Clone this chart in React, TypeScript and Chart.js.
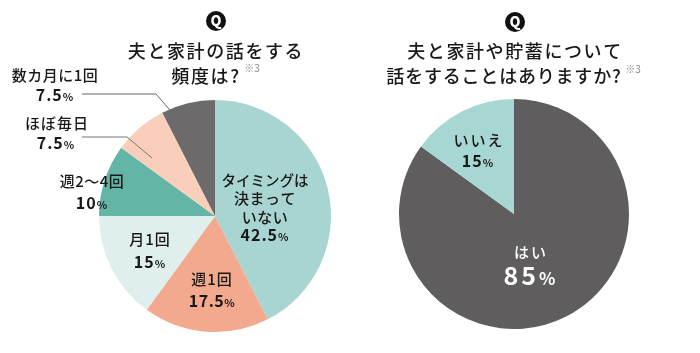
import React, { useEffect, useRef } from "react";
import { Chart, registerables } from "chart.js";

Chart.register(...registerables);

const freqCategories = ["タイミングは決まっていない", "週1回", "月1回", "週2〜4回", "ほぼ毎日", "数カ月に1回"];
const freqValues = [42.5, 17.5, 15, 10, 7.5, 7.5];
const freqColors = ["#a8d5d1", "#f2a98e", "#dfefed", "#63b5a6", "#f9cfbb", "#6c6a6a"];
const talkCategories = ["はい", "いいえ"];
const talkValues = [85, 15];
const talkColors = ["#5f5d5e", "#a6d7d3"];
const freqTitle = ["夫と家計の話をする", "頻度は?"];
const talkTitle = ["夫と家計や貯蓄について", "話をすることはありますか?"];

const FONT = '"Noto Sans CJK JP", "Noto Sans", sans-serif';
const INK = "#1a1717";

function text(ctx: CanvasRenderingContext2D, s: string, x: number, y: number, size: number, weight = 500, color = INK, spacing = 1) {
  ctx.save();
  ctx.font = `${weight} ${size}px ${FONT}`;
  (ctx as any).letterSpacing = `${spacing}px`;
  ctx.fillStyle = color;
  ctx.textAlign = "center";
  ctx.textBaseline = "middle";
  ctx.fillText(s, x, y);
  ctx.restore();
}

function pct(ctx: CanvasRenderingContext2D, v: number, x: number, y: number, size = 16, color = INK, spacing = 1) {
  ctx.save();
  const num = String(v);
  const small = size * 0.68;
  (ctx as any).letterSpacing = `${spacing}px`;
  ctx.font = `700 ${size}px ${FONT}`;
  const w1 = ctx.measureText(num).width;
  ctx.font = `700 ${small}px ${FONT}`;
  const w2 = ctx.measureText("%").width;
  const left = x - (w1 + w2) / 2;
  ctx.fillStyle = color;
  ctx.textAlign = "left";
  ctx.textBaseline = "alphabetic";
  const base = y + size * 0.36;
  ctx.font = `700 ${size}px ${FONT}`;
  ctx.fillText(num, left, base);
  ctx.font = `700 ${small}px ${FONT}`;
  ctx.fillText("%", left + w1, base);
  ctx.restore();
}

function qIcon(ctx: CanvasRenderingContext2D, x: number, y: number) {
  ctx.save();
  ctx.fillStyle = "#111";
  ctx.beginPath();
  ctx.arc(x, y, 10, 0, Math.PI * 2);
  ctx.fill();
  ctx.restore();
  text(ctx, "Q", x, y - 0.5, 14, 900, "#fff", 0);
}

function leader(ctx: CanvasRenderingContext2D, pts: number[][], color: string) {
  ctx.save();
  ctx.strokeStyle = color;
  ctx.lineWidth = 1;
  ctx.beginPath();
  pts.forEach((p, i) => (i ? ctx.lineTo(p[0], p[1]) : ctx.moveTo(p[0], p[1])));
  ctx.stroke();
  ctx.restore();
}

const freqLabels = {
  id: "freqLabels",
  afterDatasetsDraw(chart: any) {
    const ctx = chart.ctx;
    qIcon(ctx, 216, 21);
    text(ctx, freqTitle[0], 216, 51, 18, 500, INK, 1.6);
    text(ctx, freqTitle[1], 206, 76, 18, 500, INK, 1.6);
    text(ctx, "※3", 252, 68, 10, 400, "#888", 0);
    leader(ctx, [[82, 94], [156, 94], [181, 123]], "#666");
    leader(ctx, [[82, 137], [127, 137], [152, 158]], "#777");
    text(ctx, freqCategories[5], 55, 75, 15, 500, INK, 0.5);
    pct(ctx, freqValues[5], 55, 95);
    text(ctx, freqCategories[4], 57, 123, 15, 500, INK, 1);
    pct(ctx, freqValues[4], 56, 143);
    text(ctx, freqCategories[3], 92, 181, 15, 500, INK, 0.5);
    pct(ctx, freqValues[3], 92, 203);
    text(ctx, "タイミングは", 265, 180, 14.5, 500, INK, 0);
    text(ctx, "決まって", 265, 198, 15, 500, INK, 0.5);
    text(ctx, "いない", 265, 217, 15, 500, INK, 0.5);
    pct(ctx, freqValues[0], 265, 235);
    text(ctx, freqCategories[2], 150, 239, 15, 500, INK, 1);
    pct(ctx, freqValues[2], 150, 262);
    text(ctx, freqCategories[1], 212, 279, 15, 500, INK, 1);
    pct(ctx, freqValues[1], 212, 301, 16, INK, 0.5);
  },
};

const talkLabels = {
  id: "talkLabels",
  afterDatasetsDraw(chart: any) {
    const ctx = chart.ctx;
    qIcon(ctx, 165, 22);
    text(ctx, talkTitle[0], 165, 51, 18, 500, INK, 1.6);
    text(ctx, talkTitle[1], 154, 76, 18, 500, INK, 0.8);
    text(ctx, "※3", 283, 69, 10, 400, "#888", 0);
    text(ctx, talkCategories[1], 129, 140, 15, 500, INK, 2);
    pct(ctx, talkValues[1], 128, 161);
    text(ctx, talkCategories[0], 181, 252, 15, 500, "#fff", 2);
    pct(ctx, talkValues[0], 181, 276, 25, "#fff", 3);
  },
};

function Pie({ values, labels, colors, padding, plugin, style }: any) {
  const ref = useRef<HTMLCanvasElement>(null);
  useEffect(() => {
    const chart = new Chart(ref.current!, {
      type: "pie",
      data: { labels, datasets: [{ data: values, backgroundColor: colors, borderWidth: 0 }] },
      options: {
        animation: false,
        responsive: false,
        layout: { padding },
        plugins: { legend: { display: false }, tooltip: { enabled: false } },
      },
      plugins: [plugin],
    });
    return () => chart.destroy();
  }, []);
  return <canvas ref={ref} width={350} height={353} style={{ position: "absolute", top: 0, ...style }} />;
}

export default function App() {
  useEffect(() => {
    document.body.style.margin = "0";
    document.body.style.background = "#fff";
  }, []);
  return (
    <div style={{ position: "relative", width: 700, height: 353, overflow: "hidden" }}>
      <Pie values={freqValues} labels={freqCategories} colors={freqColors} plugin={freqLabels}
        padding={{ left: 99, right: 19, top: 100, bottom: 21 }} style={{ left: 0 }} />
      <Pie values={talkValues} labels={talkCategories} colors={talkColors} plugin={talkLabels}
        padding={{ left: 49, right: 71, top: 99, bottom: 24 }} style={{ left: 350 }} />
    </div>
  );
}
